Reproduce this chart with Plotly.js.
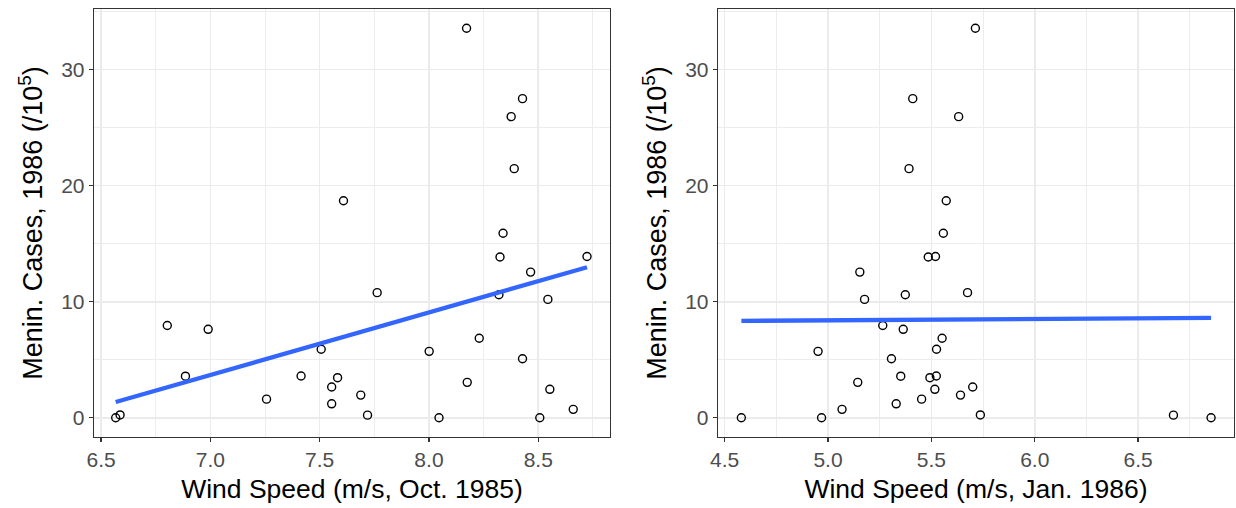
<!DOCTYPE html>
<html>
<head>
<meta charset="utf-8">
<script src="https://cdn.plot.ly/plotly-3.0.1.min.js"></script>
<style>html,body{margin:0;padding:0;background:#fff;}#chart{width:1236px;height:508px;}</style>
</head>
<body>
<div id="chart"></div>
<script>
// Meningitis cases, 1986 (per 10^5) by region
const menin = [0, 0, 0, 0.24, 0.22, 0.72, 1.2, 1.6, 1.95, 2.45, 2.65, 3.05, 3.45, 3.58, 3.6,
  5.08, 5.72, 5.9, 6.85, 7.62, 7.95, 10.2, 10.6, 10.78, 12.55, 13.85, 13.9, 15.9, 18.7,
  21.47, 25.95, 27.5, 33.57];
// Wind speed (m/s), October 1985
const windOct = [6.567, 8.046, 8.507, 6.587, 7.719, 8.660, 7.555, 7.257, 7.688, 8.553, 7.555,
  8.175, 7.582, 6.886, 7.415, 8.428, 8.001, 7.507, 8.230, 6.990, 6.803, 8.544, 8.320, 7.763,
  8.465, 8.325, 8.723, 8.339, 7.609, 8.390, 8.376, 8.428, 8.172];
// Wind speed (m/s), January 1986
const windJan = [4.581, 4.969, 6.853, 5.737, 6.671, 5.068, 5.330, 5.453, 5.641, 5.517, 5.700,
  5.144, 5.493, 5.352, 5.524, 5.307, 4.952, 5.525, 5.552, 5.364, 5.265, 5.177, 5.374, 5.675,
  5.154, 5.485, 5.520, 5.558, 5.572, 5.392, 5.632, 5.410, 5.713];

const xTitles = ['Wind Speed (m/s, Oct. 1985)', 'Wind Speed (m/s, Jan. 1986)'];
const yTitle = 'Menin. Cases, 1986 (/10<sup>5</sup>)';

// ordinary least squares fit (as geom_smooth(method = "lm"))
function lmLine(xs, ys) {
  const n = xs.length;
  const mx = xs.reduce((a, b) => a + b, 0) / n;
  const my = ys.reduce((a, b) => a + b, 0) / n;
  let sxy = 0, sxx = 0;
  for (let i = 0; i < n; i++) { sxy += (xs[i] - mx) * (ys[i] - my); sxx += (xs[i] - mx) ** 2; }
  const b = sxy / sxx, a = my - b * mx;
  const x0 = Math.min(...xs), x1 = Math.max(...xs);
  return { x: [x0, x1], y: [a + b * x0, a + b * x1] };
}

const fit1 = lmLine(windOct, menin);
const fit2 = lmLine(windJan, menin);

const pointStyle = { symbol: 'circle-open', size: 8, color: '#000000', line: { width: 1.4, color: '#000000' } };
const lineStyle = { color: '#3366FF', width: 4.3 };

const traces = [
  { x: windOct, y: menin, type: 'scatter', mode: 'markers', marker: pointStyle, xaxis: 'x', yaxis: 'y', hoverinfo: 'skip' },
  { x: windJan, y: menin, type: 'scatter', mode: 'markers', marker: pointStyle, xaxis: 'x2', yaxis: 'y2', hoverinfo: 'skip' },
  { x: fit1.x, y: fit1.y, type: 'scatter', mode: 'lines', line: lineStyle, xaxis: 'x', yaxis: 'y', hoverinfo: 'skip' },
  { x: fit2.x, y: fit2.y, type: 'scatter', mode: 'lines', line: lineStyle, xaxis: 'x2', yaxis: 'y2', hoverinfo: 'skip' }
];

const FONT = 'Liberation Sans, Arial, Helvetica, sans-serif';

function axisBase() {
  return {
    showline: true, mirror: true, linecolor: '#333333', linewidth: 1.3,
    ticks: 'outside', ticklen: 4, tickwidth: 1.3, tickcolor: '#333333',
    showgrid: true, gridcolor: '#EBEBEB', gridwidth: 1.6,
    zeroline: false, automargin: false,
    tickfont: { family: FONT, size: 21, color: '#4D4D4D' },
  };
}

const layout = {
  width: 1236, height: 508,
  margin: { l: 0, r: 0, t: 0, b: 0, pad: 0 },
  paper_bgcolor: '#ffffff', plot_bgcolor: '#ffffff',
  showlegend: false,
  font: { family: FONT },
  xaxis: Object.assign(axisBase(), {
    domain: [0.0761, 0.4935], range: [6.468, 8.828], anchor: 'y',
    tick0: 6.5, dtick: 0.5, tickformat: '.1f',
    minor: { tick0: 6.5, dtick: 0.25, showgrid: true, gridcolor: '#EBEBEB', gridwidth: 0.9, ticks: '' },
    title: { text: xTitles[0], font: { family: FONT, size: 26.5, color: '#000000' }, standoff: 9 }
  }),
  yaxis: Object.assign(axisBase(), {
    domain: [0.1398, 0.9823], range: [-1.66, 35.23], anchor: 'x',
    tick0: 0, dtick: 10,
    minor: { tick0: 0, dtick: 5, showgrid: true, gridcolor: '#EBEBEB', gridwidth: 0.9, ticks: '' },
    title: { text: yTitle, font: { family: FONT, size: 27, color: '#000000' }, standoff: 10 }
  }),
  xaxis2: Object.assign(axisBase(), {
    domain: [0.5809, 0.9984], range: [4.468, 6.964], anchor: 'y2',
    tick0: 4.5, dtick: 0.5, tickformat: '.1f',
    minor: { tick0: 4.5, dtick: 0.25, showgrid: true, gridcolor: '#EBEBEB', gridwidth: 0.9, ticks: '' },
    title: { text: xTitles[1], font: { family: FONT, size: 26.5, color: '#000000' }, standoff: 9 }
  }),
  yaxis2: Object.assign(axisBase(), {
    domain: [0.1398, 0.9823], range: [-1.66, 35.23], anchor: 'x2',
    tick0: 0, dtick: 10,
    minor: { tick0: 0, dtick: 5, showgrid: true, gridcolor: '#EBEBEB', gridwidth: 0.9, ticks: '' },
    title: { text: yTitle, font: { family: FONT, size: 27, color: '#000000' }, standoff: 10 }
  })
};

Plotly.newPlot('chart', traces, layout, { staticPlot: true, displayModeBar: false });
</script>
</body>
</html>
